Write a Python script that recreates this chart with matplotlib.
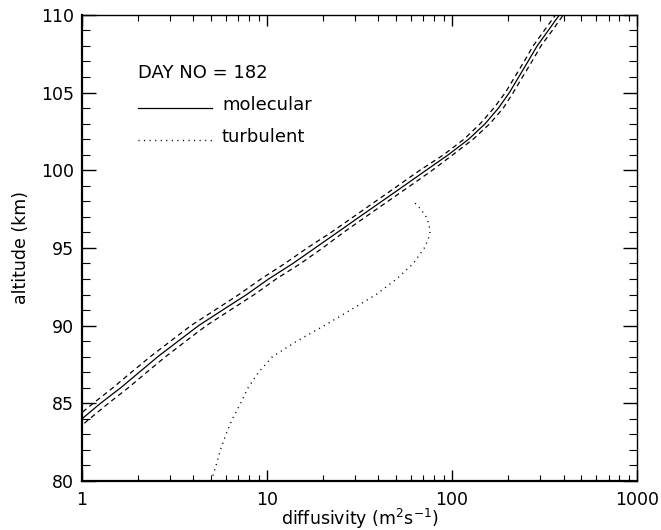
import matplotlib
matplotlib.use("Agg")
import matplotlib.pyplot as plt
from matplotlib.ticker import FixedLocator, LogLocator, NullFormatter, MultipleLocator

# Molecular diffusivity (solid) and its bounds (dashed)
alt_mol = [83, 84, 85, 86, 87, 88, 89, 90, 91, 92, 93, 94, 95, 96, 97, 98, 99,
           100, 101, 102, 103, 104, 105, 106, 107, 108, 109, 110]
d_mol = [0.79, 1.00, 1.26, 1.62, 2.04, 2.57, 3.31, 4.27, 5.75, 7.76, 10.2, 13.8, 18.2,
         24.0, 31.6, 41.7, 55.0, 72.4, 95.5, 123, 151, 178, 204, 229, 257, 288, 331, 380]
d_mol_low = [0.72, 0.91, 1.15, 1.47, 1.85, 2.34, 3.01, 3.88, 5.23, 7.05, 9.27, 12.5, 16.5,
             22.2, 29.3, 38.6, 50.9, 67.0, 90.1, 116, 142, 168, 194, 218, 245, 274, 315, 362]
d_mol_high = [0.87, 1.10, 1.39, 1.78, 2.24, 2.83, 3.64, 4.70, 6.33, 8.54, 11.2, 15.2, 20.0,
              25.9, 34.1, 45.0, 59.4, 78.2, 101, 130, 160, 189, 214, 240, 270, 302, 348, 399]

# Turbulent diffusivity (dotted)
alt_turb = [80, 81, 82, 83, 84, 85, 86, 87, 88, 89, 90, 91, 92, 93, 94, 95,
            95.5, 96, 96.5, 97, 97.5, 98]
d_turb = [5.0, 5.3, 5.6, 6.0, 6.5, 7.2, 7.9, 9.0, 10.7, 14.5, 20.4, 28.2, 38.9, 50.1,
          61.7, 70.8, 74.0, 75.9, 75.0, 72.4, 67.6, 61.7]

xticks = [1, 10, 100, 1000]
xticklabels = ["1", "10", "100", "1000"]
yticks = [80, 85, 90, 95, 100, 105, 110]

fig = plt.figure(figsize=(6.61, 5.30), dpi=100)
ax = fig.add_axes([0.124, 0.0925, 0.840, 0.8795])

ax.plot(d_mol, alt_mol, color="black", lw=0.9)
ax.plot(d_mol_low, alt_mol, color="black", lw=0.9, ls=(0, (4, 3)))
ax.plot(d_mol_high, alt_mol, color="black", lw=0.9, ls=(0, (4, 3)))
ax.plot(d_turb, alt_turb, color="black", lw=1.0, ls=(0, (0.8, 3.2)))

ax.set_xscale("log")
ax.set_xlim(1, 1000)
ax.set_ylim(80, 110)

ax.xaxis.set_major_locator(FixedLocator(xticks))
ax.set_xticklabels(xticklabels)
ax.xaxis.set_minor_locator(LogLocator(base=10, subs=range(2, 10)))
ax.xaxis.set_minor_formatter(NullFormatter())
ax.set_yticks(yticks)
ax.yaxis.set_minor_locator(MultipleLocator(1))

ax.tick_params(which="both", direction="in", top=True, right=True, labelsize=12.5, color="black")
ax.tick_params(axis="y", which="major", length=10, width=1.0, pad=6)
ax.tick_params(axis="y", which="minor", length=6, width=0.8)
ax.tick_params(axis="x", which="major", length=8, width=1.0, pad=7)
ax.tick_params(axis="x", which="minor", length=4.5, width=0.8)
for s in ax.spines.values():
    s.set_linewidth(1.0)
ax.spines["left"].set_linewidth(1.6)
ax.spines["bottom"].set_linewidth(1.6)

ax.set_xlabel("diffusivity (m$^2$s$^{-1}$)", fontsize=12.5, labelpad=-1)
ax.set_ylabel("altitude (km)", fontsize=12.5, labelpad=8)

# Annotation / legend
ax.text(0.101, 0.876, "DAY NO = 182", transform=ax.transAxes, fontsize=13, va="center", ha="left")
ax.plot([0.101, 0.234], [0.800, 0.800], transform=ax.transAxes, color="black", lw=0.9)
ax.text(0.252, 0.806, "molecular", transform=ax.transAxes, fontsize=13, va="center", ha="left")
ax.plot([0.101, 0.234], [0.732, 0.732], transform=ax.transAxes, color="black", lw=1.0, ls=(0, (0.8, 3.2)))
ax.text(0.252, 0.738, "turbulent", transform=ax.transAxes, fontsize=13, va="center", ha="left")

fig.savefig("out.png", dpi=100)
